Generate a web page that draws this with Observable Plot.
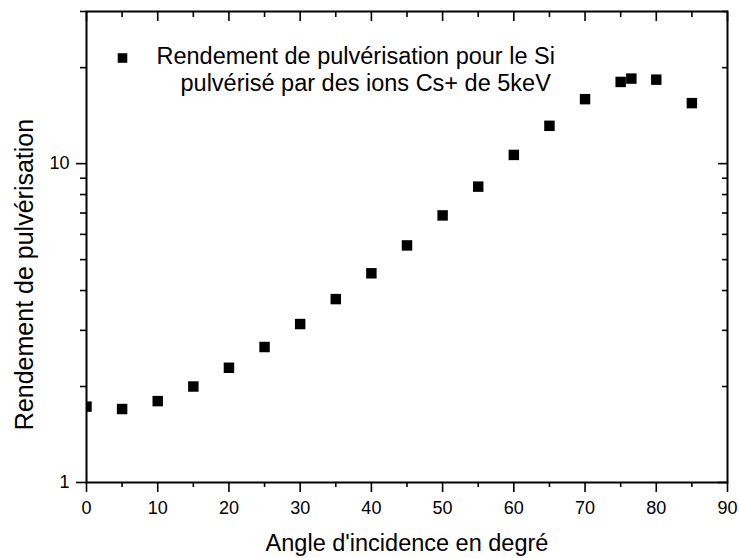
<!DOCTYPE html>
<html>
<head>
<meta charset="utf-8">
<script src="https://cdn.jsdelivr.net/npm/d3@7"></script>
<script src="https://cdn.jsdelivr.net/npm/@observablehq/plot@0.6"></script>
<style>
  html, body { margin: 0; padding: 0; background: #fff; }
  #chart svg { display: block; }
</style>
</head>
<body>
<div id="chart"></div>
<script>
// Data
const angles = [0, 5, 10, 15, 20, 25, 30, 35, 40, 45, 50, 55, 60, 65, 70, 75, 76.5, 80, 85];
const yields = [1.73, 1.70, 1.80, 2.0, 2.29, 2.66, 3.14, 3.76, 4.53, 5.54, 6.88, 8.47, 10.65, 13.14, 15.93, 18.04, 18.48, 18.34, 15.48];

const xMajorTicks = [0, 10, 20, 30, 40, 50, 60, 70, 80, 90];
const xMinorTicks = [5, 15, 25, 35, 45, 55, 65, 75, 85];
const yMajorTicks = [1, 10];
const yMinorTicks = [2, 3, 4, 5, 6, 7, 8, 9, 20, 30];

const xTitle = "Angle d'incidence en degré";
const yTitle = "Rendement de pulvérisation";
const legendLine1 = "Rendement de pulvérisation pour le Si";
const legendLine2 = "pulvérisé par des ions Cs+ de 5keV";

const points = angles.map((a, i) => ({angle: a, yield: yields[i]}));
const font = "'Liberation Sans', Arial, Helvetica, sans-serif";
const blank = () => "";

const chart = Plot.plot({
  width: 740,
  height: 558,
  marginLeft: 86,
  marginRight: 13,
  marginTop: 11,
  marginBottom: 76,
  style: {fontFamily: font, color: "#000", background: "#fff"},
  x: {domain: [0, 90]},
  y: {type: "log", domain: [1, 30]},
  marks: [
    // data points (clipped to the frame)
    Plot.dot(points, {x: "angle", y: "yield", symbol: "square", r: 5.9, fill: "#000", stroke: "none", clip: true}),
    // bottom axis: outward ticks with labels
    Plot.axisX({anchor: "bottom", ticks: xMajorTicks, tickSize: 10, tickPadding: 9, fontSize: 18, label: null, strokeWidth: 1.6, tickFormat: d => String(d)}),
    Plot.axisX({anchor: "bottom", ticks: xMinorTicks, tickSize: 5, label: null, strokeWidth: 1.6, tickFormat: blank}),
    // top axis: inward ticks
    Plot.axisX({anchor: "top", ticks: xMajorTicks, tickSize: -9, label: null, strokeWidth: 1.6, tickFormat: blank}),
    Plot.axisX({anchor: "top", ticks: xMinorTicks, tickSize: -5, label: null, strokeWidth: 1.6, tickFormat: blank}),
    // left axis: outward ticks with labels
    Plot.axisY({anchor: "left", ticks: yMajorTicks, tickSize: 10, tickPadding: 7, fontSize: 18, label: null, strokeWidth: 1.6, tickFormat: d => String(d)}),
    Plot.axisY({anchor: "left", ticks: yMinorTicks, tickSize: 6, label: null, strokeWidth: 1.6, tickFormat: blank}),
    // right axis: inward ticks
    Plot.axisY({anchor: "right", ticks: yMajorTicks, tickSize: -10, label: null, strokeWidth: 1.6, tickFormat: blank}),
    Plot.axisY({anchor: "right", ticks: yMinorTicks, tickSize: -6, label: null, strokeWidth: 1.6, tickFormat: blank}),
    Plot.frame({stroke: "#000", strokeWidth: 2}),
    // legend
    Plot.dot([legendLine1], {frameAnchor: "top-left", dx: 36, dy: 46.5, symbol: "square", r: 5.4, fill: "#000", stroke: "none"}),
    Plot.text([legendLine1], {frameAnchor: "top-left", dx: 70, dy: 52, text: d => d, textAnchor: "start", lineAnchor: "bottom", fontSize: 23.5, fill: "#000"}),
    Plot.text([legendLine2], {frameAnchor: "top-left", dx: 94, dy: 79, text: d => d, textAnchor: "start", lineAnchor: "bottom", fontSize: 23.5, fill: "#000"}),
    // axis titles
    Plot.text([xTitle], {frameAnchor: "bottom", dy: 68, text: d => d, textAnchor: "middle", lineAnchor: "bottom", fontSize: 23.5, fill: "#000"}),
    Plot.text([yTitle], {frameAnchor: "left", dx: -54, dy: 27.5, rotate: -90, text: d => d, textAnchor: "middle", lineAnchor: "bottom", fontSize: 25, fill: "#000"})
  ]
});
document.getElementById("chart").appendChild(chart);
</script>
</body>
</html>
